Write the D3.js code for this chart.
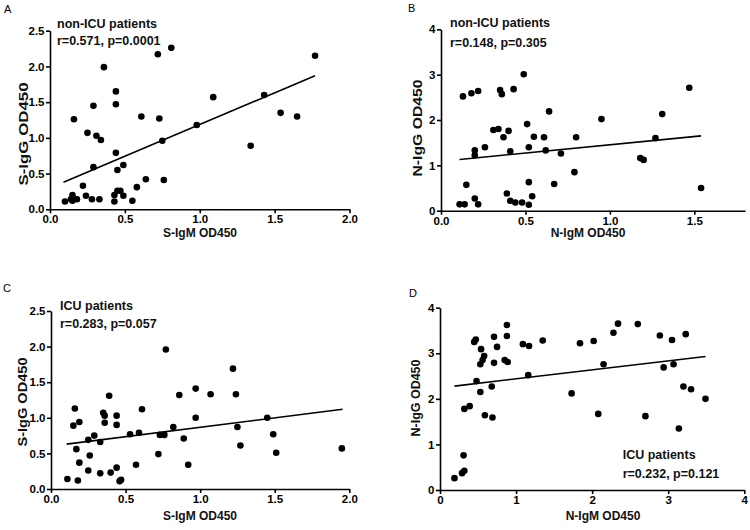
<!DOCTYPE html>
<html><head><meta charset="utf-8">
<script src="https://cdn.jsdelivr.net/npm/d3@7"></script>
<style>
body{margin:0;background:#fff;}
svg{display:block;font-family:"Liberation Sans",Arial,sans-serif;}
</style></head>
<body>
<svg id="chart" width="750" height="530"></svg>
<script>
// ---------- DATA ----------
const aX = [0.10,0.14,0.15,0.16,0.15,0.18,0.24,0.22,0.28,0.33,0.43,0.43,0.45,0.47,0.49,0.55,0.58,0.64,0.76,0.49,0.45,0.44,0.29,0.25,0.31,0.34,0.75,0.16,0.29,0.44,0.44,0.36,0.61,0.73,0.72,0.81,0.98,1.09,1.43,1.54,1.65,1.34,1.77];
const aY = [0.11,0.14,0.20,0.15,0.12,0.14,0.19,0.33,0.14,0.14,0.20,0.11,0.26,0.26,0.19,0.12,0.31,0.42,0.41,0.62,0.55,0.79,0.59,1.07,1.03,0.97,0.96,1.26,1.45,1.47,1.65,1.99,1.30,1.27,2.17,2.26,1.18,1.57,1.60,1.35,1.30,0.89,2.15];
const aFitX = [0.09, 1.77], aFitY = [0.38, 1.87];

const bX = [0.11,0.14,0.15,0.20,0.22,0.39,0.41,0.44,0.48,0.52,0.54,0.52,0.67,0.79,0.20,0.20,0.26,0.41,0.52,0.62,0.71,0.37,0.55,0.61,0.80,0.31,0.34,0.40,0.51,0.64,0.95,0.13,0.18,0.22,0.35,0.36,0.43,0.49,1.18,1.20,1.27,1.31,1.47,1.54];
const bY = [0.14,0.14,0.57,0.27,0.14,0.38,0.22,0.18,0.18,0.13,0.32,0.63,0.59,0.85,1.33,1.22,1.40,1.31,1.40,1.33,1.26,1.62,1.63,1.62,1.62,1.78,1.80,1.76,1.91,2.19,2.02,2.52,2.59,2.64,2.66,2.57,2.68,3.01,1.16,1.12,1.60,2.13,2.71,0.50];
const bFitX = [0.11, 1.54], bFitY = [1.13, 1.65];

const cX = [0.11,0.18,0.47,0.46,0.25,0.33,0.40,0.44,0.19,0.26,0.17,0.57,0.92,0.72,0.33,0.25,0.29,0.53,0.59,0.73,0.76,0.89,0.82,0.15,0.19,0.36,0.44,0.35,0.36,0.44,0.16,0.61,0.39,0.97,0.86,0.97,1.07,0.77,1.22,1.24,1.45,1.25,1.49,1.27,1.51,1.95];
const cY = [0.14,0.12,0.13,0.11,0.26,0.22,0.23,0.30,0.37,0.47,0.56,0.34,0.34,0.49,0.66,0.69,0.75,0.77,0.79,0.76,0.76,0.71,0.87,0.89,0.94,0.93,0.90,1.07,1.03,1.03,1.13,1.12,1.31,1.00,1.32,1.41,1.33,1.96,1.69,1.33,1.00,0.87,0.77,0.61,0.51,0.57];
const cFitX = [0.105, 1.955], cFitY = [0.63, 1.12];

const dX = [0.19,0.29,0.32,0.31,0.32,0.39,0.59,0.69,0.53,0.68,0.48,1.16,0.53,0.56,0.58,0.71,0.85,0.89,0.54,0.75,0.45,0.47,0.71,0.88,0.88,1.09,1.17,1.35,1.73,1.84,2.02,2.28,2.34,2.60,2.89,3.05,3.23,2.15,2.94,3.07,3.20,3.30,3.49,2.08,2.70,3.14];
const dY = [0.26,0.37,0.42,0.76,1.78,1.84,1.64,1.59,2.15,2.27,2.39,2.52,2.76,2.85,2.94,2.79,2.85,2.81,3.09,3.14,3.25,3.30,3.36,3.38,3.62,3.20,3.16,3.28,2.12,3.22,3.27,3.45,3.65,3.64,3.39,3.29,3.42,2.76,2.69,2.76,2.27,2.21,2.00,1.67,1.62,1.35];
const dFitX = [0.19, 3.49], dFitY = [2.28, 2.93];

const ticksHalf = [0, 0.5, 1.0, 1.5, 2.0];
const ticksHalf25 = [0, 0.5, 1.0, 1.5, 2.0, 2.5];
const ticksHalf15 = [0, 0.5, 1.0, 1.5];
const ticksInt4 = [0, 1, 2, 3, 4];

const panelLetters = ["A", "B", "C", "D"];
const xTitles = ["S-IgM OD450", "N-IgM OD450", "S-IgM OD450", "N-IgM OD450"];
const yTitles = ["S-IgG OD450", "N-IgG OD450", "S-IgG OD450", "N-IgG OD450"];
const groupTitles = ["non-ICU patients", "non-ICU patients", "ICU patients", "ICU patients"];
const statTexts = ["r=0.571, p=0.0001", "r=0.148, p=0.305", "r=0.283, p=0.057", "r=0.232, p=0.121"];

// ---------- LAYOUT ----------
const panels = [
  {xs:aX, ys:aY, fx:aFitX, fy:aFitY, xDom:[0,2], yDom:[0,2.5], xR:[50,349.5], yR:[209.3,30.7],
   xT:ticksHalf, yT:ticksHalf25, xF:".1f", yF:".1f",
   letter:[4,13], ann:[57,28.3,45], xTitle:[200,237], yTitle:[23,134,103]},
  {xs:bX, ys:bY, fx:bFitX, fy:bFitY, xDom:[0,1.8], yDom:[0,4], xR:[441,745], yR:[210.7,29.3],
   xT:ticksHalf15, yT:ticksInt4, xF:".1f", yF:"d",
   letter:[408,12], ann:[450,27.3,46.7], xTitle:[588,237], yTitle:[417,128,97]},
  {xs:cX, ys:cY, fx:cFitX, fy:cFitY, xDom:[0,2], yDom:[0,2.5], xR:[51,349.3], yR:[489,311],
   xT:ticksHalf, yT:ticksHalf25, xF:".1f", yF:".1f",
   letter:[3,292], ann:[60,310,328.3], xTitle:[200,520], yTitle:[22,402,89]},
  {xs:dX, ys:dY, fx:dFitX, fy:dFitY, xDom:[0,4], yDom:[0,4], xR:[440,744.3], yR:[490,307.7],
   xT:ticksInt4, yT:ticksInt4, xF:"d", yF:"d",
   letter:[409,297], ann:[622.7,459.3,478.3], xTitle:[603,520], yTitle:[415,398,77]}
];

const svg = d3.select("#chart");

panels.forEach((p, i) => {
  const g = svg.append("g");
  const x = d3.scaleLinear().domain(p.xDom).range(p.xR);
  const y = d3.scaleLinear().domain(p.yDom).range(p.yR);

  // axes
  const xAxis = d3.axisBottom(x).tickValues(p.xT).tickFormat(d3.format(p.xF)).tickSize(4).tickSizeOuter(0).tickPadding(2);
  const yAxis = d3.axisLeft(y).tickValues(p.yT).tickFormat(d3.format(p.yF)).tickSize(4).tickSizeOuter(0).tickPadding(1.5);
  const gx = g.append("g").attr("transform", `translate(0,${p.yR[0]})`).call(xAxis);
  const gy = g.append("g").attr("transform", `translate(${p.xR[0]},0)`).call(yAxis);
  [gx, gy].forEach(a => {
    a.select(".domain").attr("stroke", "#000").attr("stroke-width", 1.6);
    a.selectAll(".tick line").attr("stroke", "#000").attr("stroke-width", 1.6);
    a.selectAll(".tick text").attr("fill", "#000").attr("font-size", 11.5).attr("font-weight", "bold")
      .attr("font-family", "'Liberation Sans', Arial, sans-serif");
  });

  // fit line
  g.append("line")
    .attr("x1", x(p.fx[0])).attr("y1", y(p.fy[0]))
    .attr("x2", x(p.fx[1])).attr("y2", y(p.fy[1]))
    .attr("stroke", "#000").attr("stroke-width", 1.6);

  // points
  g.selectAll("circle").data(p.xs.map((v, k) => [v, p.ys[k]])).join("circle")
    .attr("cx", d => x(d[0])).attr("cy", d => y(d[1])).attr("r", 3.3).attr("fill", "#000");

  // panel letter
  g.append("text").attr("x", p.letter[0]).attr("y", p.letter[1]).attr("font-size", 11)
    .attr("fill", "#000").text(panelLetters[i]);

  // annotations
  g.append("text").attr("x", p.ann[0]).attr("y", p.ann[1]).attr("font-size", 12.5)
    .attr("font-weight", "bold").attr("fill", "#111").text(groupTitles[i]);
  g.append("text").attr("x", p.ann[0]).attr("y", p.ann[2]).attr("font-size", 12.5)
    .attr("font-weight", "bold").attr("fill", "#111").text(statTexts[i]);

  // axis titles
  g.append("text").attr("x", p.xTitle[0]).attr("y", p.xTitle[1]).attr("text-anchor", "middle")
    .attr("font-size", 12).attr("font-weight", "bold").attr("fill", "#111").text(xTitles[i]);
  g.append("text").attr("transform", `translate(${p.yTitle[0]},${p.yTitle[1]}) rotate(-90)`)
    .attr("text-anchor", "middle").attr("dy", "0.35em")
    .attr("font-size", 13.5).attr("font-weight", "bold").attr("fill", "#111")
    .attr("textLength", p.yTitle[2]).attr("lengthAdjust", "spacingAndGlyphs")
    .text(yTitles[i]);
});
</script>
</body></html>
